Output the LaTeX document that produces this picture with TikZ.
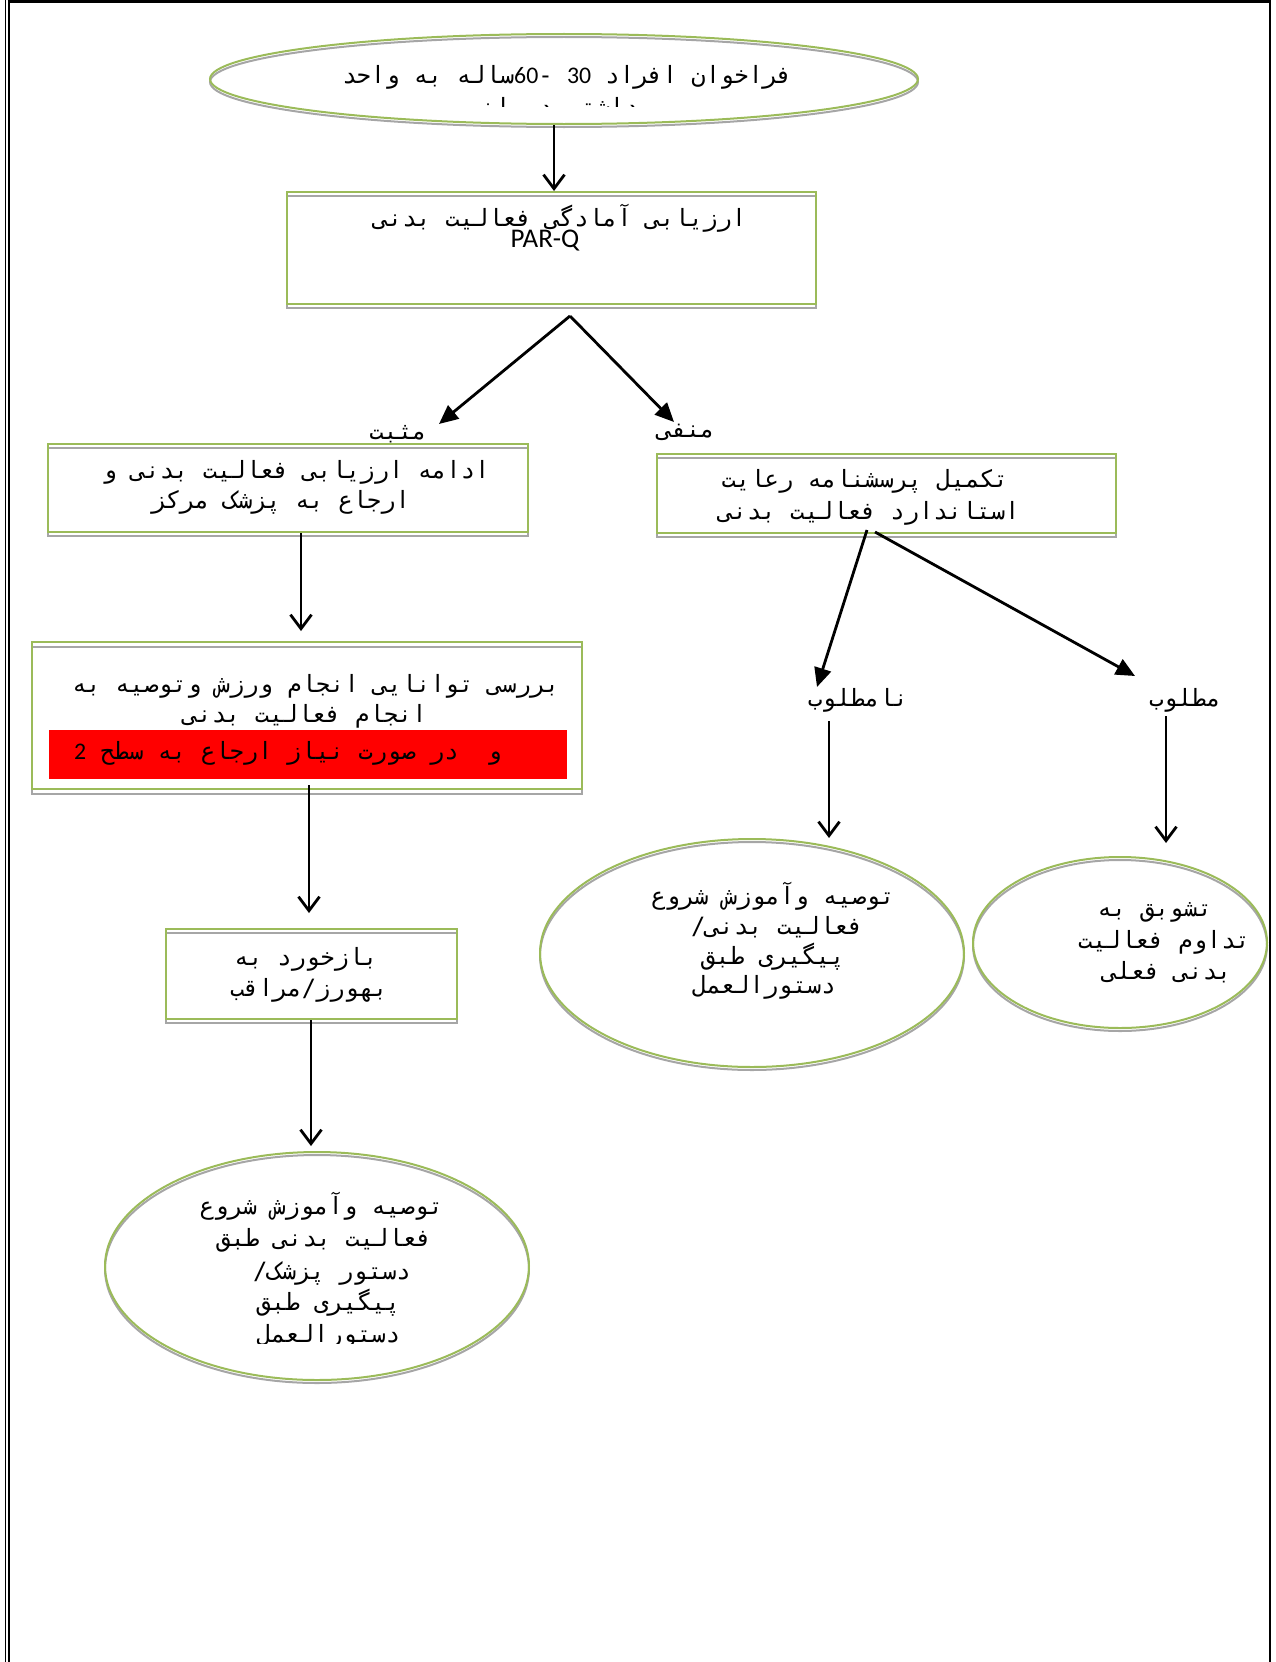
\documentclass[tikz,border=0pt]{standalone}
\usepackage{fontspec}
\usetikzlibrary{shapes.geometric,arrows.meta}
\TeXXeTstate=1
\newfontfamily\fafont[Script=Arabic]{DejaVu Sans Mono}
\newfontfamily\latfont{Carlito}
\definecolor{ogreen}{HTML}{9BBB59}
\definecolor{shade}{HTML}{A6A6A6}
\newcommand\rtl[1]{\beginR #1\endR}
\newcommand\ltrnum[1]{\beginL{\latfont #1}\endL{}}

\tikzset{
  fa/.style={font=\fafont\fontsize{23.8}{30}\selectfont, inner sep=0pt, anchor=base},
  la/.style={font=\latfont\fontsize{27}{30}\selectfont, inner sep=0pt, anchor=base},
  gbox/.style={rectangle, draw=ogreen, line width=2pt, inner sep=0pt},
  sbox/.style={rectangle, draw=shade, line width=2pt, inner sep=0pt},
  gell/.style={ellipse, draw=ogreen, line width=2pt, inner sep=0pt},
  sell/.style={ellipse, draw=shade, line width=2pt, inner sep=0pt},
  conn/.style={line width=2.8pt, -{Straight Barb[length=14pt,width=21pt]}},
  fconn/.style={line width=2.8pt, -{Triangle[length=19pt,width=17pt]}},
}

\begin{document}
\begin{tikzpicture}[x=1pt,y=-1pt]
\useasboundingbox (0,0) rectangle (1276,1662);

% page frame
\draw[line width=1.7pt] (5.5,0) -- (5.5,1662);
\draw[line width=2pt] (8.7,0) -- (8.7,1662);
\draw[line width=2.7pt] (7.7,1.3) -- (1271,1.3);
\draw[line width=2pt] (1270,0) -- (1270,1662);

% shapes: grey offset copy underneath, green outline on top
\node[sell, minimum width=708pt, minimum height=90pt] (tops) at (564,82) {};
\node[gell, minimum width=708pt, minimum height=90pt] (top) at (564,79) {};

\node[sbox, minimum width=529pt, minimum height=112pt] (box1s) at (551.5,252) {};
\node[gbox, minimum width=529pt, minimum height=112pt] (box1) at (551.5,248) {};

\node[sbox, minimum width=480pt, minimum height=88pt] (boxLs) at (288,492) {};
\node[gbox, minimum width=480pt, minimum height=88pt] (boxL) at (288,488) {};

\node[sbox, minimum width=459pt, minimum height=79pt] (boxRs) at (886.5,497) {};
\node[gbox, minimum width=459pt, minimum height=79pt] (boxR) at (886.5,493.5) {};

\node[sbox, minimum width=550pt, minimum height=147pt] (boxBs) at (307,720) {};
\node[gbox, minimum width=550pt, minimum height=147pt] (boxB) at (307,715.5) {};
\node[rectangle, fill=red, inner sep=0pt, minimum width=518pt, minimum height=49pt] (redbar) at (308,754.5) {};

\node[sbox, minimum width=291pt, minimum height=90pt] (boxFs) at (311.5,978) {};
\node[gbox, minimum width=291pt, minimum height=90pt] (boxF) at (311.5,974) {};

\node[sell, minimum width=424pt, minimum height=228pt] (ellMs) at (752,956) {};
\node[gell, minimum width=424pt, minimum height=228pt] (ellM) at (752,953) {};

\node[sell, minimum width=294pt, minimum height=171pt] (ellRs) at (1120,945.5) {};
\node[gell, minimum width=294pt, minimum height=171pt] (ellR) at (1120,942.5) {};

\node[sell, minimum width=424pt, minimum height=228pt] (ellBs) at (317,1269) {};
\node[gell, minimum width=424pt, minimum height=228pt] (ellB) at (317,1266) {};

% texts
\node[fa] (t1a) at (567,84) {\rtl{فراخوان افراد \ltrnum{30} -\ltrnum{60}ساله به واحد}};
\begin{scope}
  \clip (200,90) rectangle (930,106);
  \node[fa] (t1b) at (567,115) {\rtl{بهداشتی درمانی}};
\end{scope}

\node[fa] (t2a) at (560,226) {\rtl{ارزیابی آمادگی فعالیت بدنی}};
\node[la] (t2b) at (545,247) {PAR-Q};

\node[fa] (lpos) at (398,439) {\rtl{مثبت}};
\node[fa] (lneg) at (686,437) {\rtl{منفی}};

\node[fa] (t3a) at (296,478.5) {\rtl{ادامه ارزیابی فعالیت بدنی و}};
\node[fa] (t3b) at (281,508) {\rtl{ارجاع به پزشک مرکز}};

\node[fa] (t4a) at (865,487) {\rtl{تکمیل پرسشنامه رعایت}};
\node[fa] (t4b) at (869,519) {\rtl{استاندارد فعالیت بدنی}};

\node[fa] (t5a) at (316,692.5) {\rtl{بررسی توانایی انجام ورزش وتوصیه به}};
\node[fa] (t5b) at (305,722) {\rtl{انجام فعالیت بدنی}};
\node[fa] (t5c) at (288,759) {\rtl{و\ \ در صورت نیاز ارجاع به سطح \ltrnum{2}}};

\node[fa] (t6a) at (306,965) {\rtl{بازخورد به}};
\node[fa] (t6b) at (309,996) {\rtl{بهورز/مراقب}};

\node[fa] (lbad) at (858,706) {\rtl{نامطلوب}};
\node[fa] (lgood) at (1185,706) {\rtl{مطلوب}};

\node[fa] (t7a) at (773,904.5) {\rtl{توصیه وآموزش شروع}};
\node[fa] (t7b) at (777,934) {\rtl{فعالیت بدنی/}};
\node[fa] (t7c) at (773,964) {\rtl{پیگیری طبق}};
\node[fa] (t7d) at (764,993.5) {\rtl{دستورالعمل}};

\node[fa] (t8a) at (1155,916) {\rtl{تشوبق به}};
\node[fa] (t8b) at (1164,948) {\rtl{تداوم فعالیت}};
\node[fa] (t8c) at (1167,979) {\rtl{بدنی فعلی}};

\node[fa] (t9a) at (321.5,1214) {\rtl{توصیه وآموزش شروع}};
\node[fa] (t9b) at (324,1246) {\rtl{فعالیت بدنی طبق}};
\node[fa] (t9c) at (332,1279) {\rtl{دستور پزشک/}};
\node[fa] (t9d) at (328.5,1310.5) {\rtl{پیگیری طبق}};
\begin{scope}
  \clip (100,1318) rectangle (540,1343);
  \node[fa] (t9e) at (328.5,1342) {\rtl{دستورالعمل}};
\end{scope}

% connector end points
\coordinate (a1s) at (554,125);
\coordinate (fork) at (570,316);
\coordinate (posend) at (439,424);
\coordinate (negend) at (674,422);
\coordinate (a4e) at (301,631);
\coordinate (a5s) at (309,785);
\coordinate (a5e) at (309,913);
\coordinate (a6e) at (311,1146);
\coordinate (a7s) at (867,530);
\coordinate (a7e) at (817,687);
\coordinate (a8s) at (875,532);
\coordinate (a8e) at (1135,676);
\coordinate (a9s) at (829,721);
\coordinate (a10s) at (1166,716);
\coordinate (a10e) at (1166,843);

% connectors
\draw[conn] (a1s) -- (a1s |- box1.north);
\draw[fconn] (fork) -- (posend);
\draw[fconn] (fork) -- (negend);
\draw[conn] (boxL.south -| a4e) -- (a4e);
\draw[conn] (a5s) -- (a5e);
\draw[conn] (boxF.south -| a6e) -- (a6e);
\draw[fconn] (a7s) -- (a7e);
\draw[fconn] (a8s) -- (a8e);
\draw[conn] (a9s) -- (a9s |- ellM.north);
\draw[conn] (a10s) -- (a10e);
\end{tikzpicture}
\end{document}
